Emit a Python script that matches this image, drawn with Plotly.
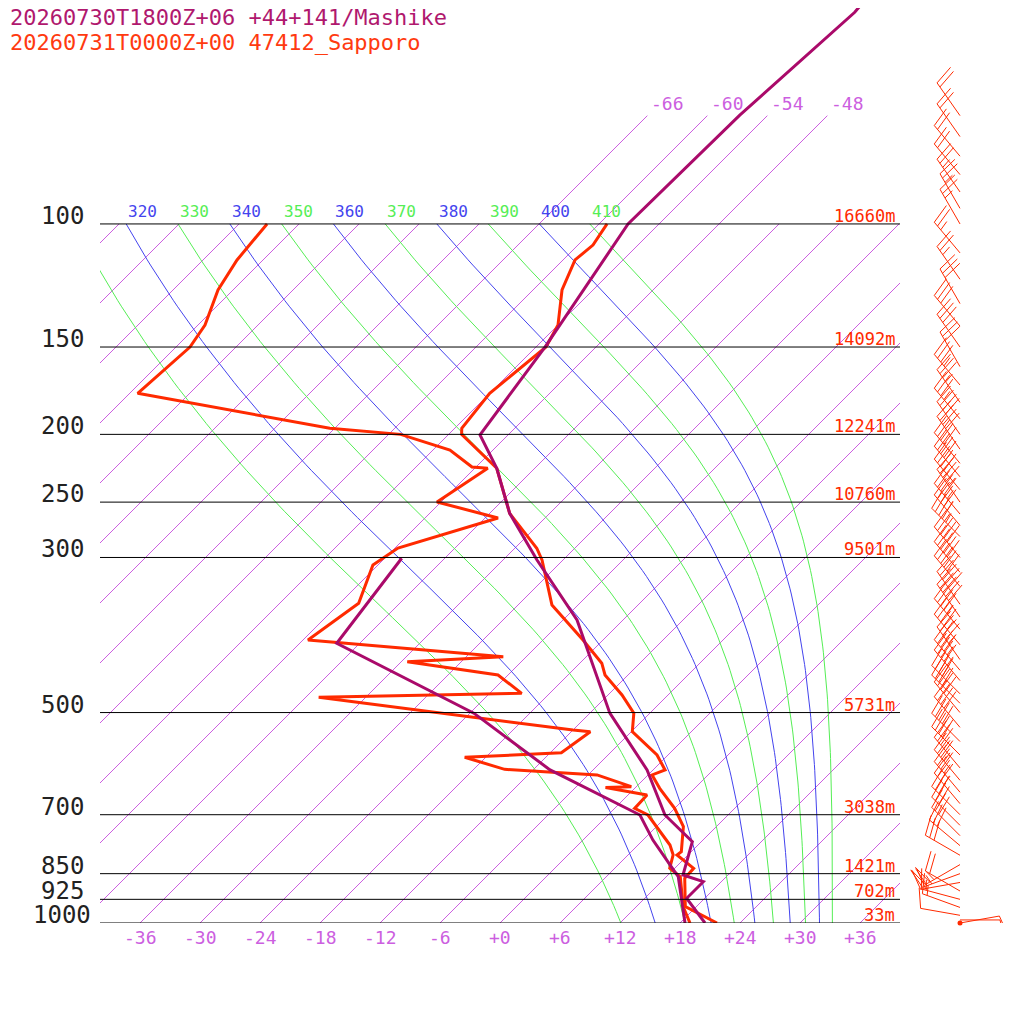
import numpy as np
import plotly.graph_objects as go

K = 30.36  # skew factor, degC per ln(p) unit
OFF = 8.0       # page body margin of the browser
W = 1016.0
PTOP = 1000 * np.exp(-(923 - OFF) / 303.6)

# ---- data ----
mash_T_p = [47.8, 49.8, 69.9, 100, 150, 200.4, 223.6, 259.4, 302.5, 368.6, 501, 604, 700.7, 765, 853.8, 872.8, 921.9, 1000]
mash_T = [-55.8, -55.6, -56.8, -57.1, -53.1, -50.8, -45.8, -40.0, -32.6, -22.6, -10.0, -0.6, 5.7, 11.1, 13.5, 16.2, 16.2, 20.5]
mash_Td_p = [300.8, 398, 501, 604, 700.7, 761, 826, 858.6, 1000]
mash_Td = [-46.3, -44.3, -23.6, -10.3, 3.2, 7.0, 11.2, 13.2, 18.5]

sap_T_p = [100, 107.2, 112.6, 124.3, 139.5, 150, 174.7, 196, 200, 223.6, 259.4, 291, 302.5, 350.9, 393.7, 425, 441.8, 471.9,
           501, 532.5, 575, 604, 614, 641.7, 685.5, 728, 790.6, 799.3, 835.2, 863, 947.7, 1000]
sap_T = [-59.2, -58.5, -58.8, -57.1, -54.0, -53.0, -54.0, -53.3, -52.7, -45.8, -40.0, -33.8, -32.1, -26.6, -20.0, -15.8, -14.3, -10.6,
         -7.6, -5.9, -1.1, 1.2, 0.4, 2.5, 6.0, 8.7, 11.0, 10.9, 13.9, 14.0, 16.9, 21.7]
sap_Td_p = [100, 107.2, 112.6, 124.3, 139.5, 150, 174.7, 196, 200, 210.6, 222.7, 223.6, 249.9, 263.4, 290.8, 307.6, 348.9, 393.7,
            416, 422.9, 441.8, 469.3, 475.5, 529.6, 532.5, 570.6, 579.4, 602.8, 614, 638.3, 640, 656, 685.5, 700.7, 773.5, 799,
            835, 858.6, 948, 1000]
sap_Td = [-93.2, -92.8, -92.6, -91.5, -89.3, -88.6, -89.2, -66.5, -58.8, -52.3, -48.4, -46.7, -48.4, -40.7, -47.7, -48.5, -46.1, -47.5,
          -26.3, -35.4, -25.0, -20.8, -40.7, -12.0, -10.1, -10.9, -20.1, -14.9, -5.1, -0.5, -3.0, 1.9, 2.0, 4.0, 9.2, 10.5,
          11.5, 13.4, 16.7, 19.0]

isobars = [100, 150, 200, 250, 300, 500, 700, 850, 925, 1000]
heights = ["16660m", "14092m", "12241m", "10760m", "9501m", "5731m", "3038m", "1421m", "702m", "33m"]
temp_ticks = [-36, -30, -24, -18, -12, -6, 0, 6, 12, 18, 24, 30, 36]
theta_vals = [310, 320, 330, 340, 350, 360, 370, 380, 390, 400, 410]
iso_labels = [-66, -60, -54, -48]

wind_p = [1000, 990, 975, 950, 925, 900, 875, 850, 825, 800, 775, 750, 725, 700, 675, 650, 625, 600, 575, 550, 525, 500, 485,
          470, 450, 435, 420, 400, 380, 365, 350, 330, 315, 300, 280, 270, 260, 250, 240, 230, 220, 210, 200, 190, 180, 170,
          160, 150, 140, 130, 120, 110, 100, 95, 90, 85, 80, 75, 70]
wind_dir = [80, 90, 280, 290, 285, 300, 260, 250, 240, 300, 310, 315, 315, 315, 320, 320, 320, 320, 315, 315, 320, 320, 315,
            315, 320, 320, 325, 320, 320, 325, 325, 320, 320, 320, 315, 320, 320, 325, 320, 320, 320, 325, 325, 320, 325, 320,
            330, 325, 320, 330, 325, 320, 330, 330, 325, 320, 320, 325, 325]
wind_spd = [5, 10, 10, 15, 15, 20, 20, 25, 25, 30, 30, 30, 30, 30, 35, 35, 35, 35, 40, 40, 40, 40, 40, 40, 45, 45, 45, 45, 45,
            50, 50, 50, 50, 50, 45, 45, 45, 45, 40, 40, 40, 40, 40, 35, 35, 35, 30, 30, 30, 30, 25, 25, 25, 25, 25, 20, 20,
            20, 20]

PURPLE = "#aa0a6a"
RED = "#ff2a00"
ISO = "#cc5ee0"
GREEN = "#55ee55"
BLUE = "#4444ee"
FONT = "DejaVu Sans Mono"

def px(X):
    return (X - OFF) / W

def py(Y):
    return 1 - (Y - OFF) / W

def skew(T, p):
    return np.asarray(T, float) + K * np.log(1000.0 / np.asarray(p, float))

fig = go.Figure()

# isotherms
for T in range(-126, 40, 6):
    ptop = 70 if -66 <= T <= -48 else 100
    pp = np.array([1000.0, ptop])
    fig.add_trace(go.Scatter(x=skew([T, T], pp), y=pp, mode="lines", line=dict(color=ISO, width=1),
                             hoverinfo="skip", showlegend=False))

# pseudo-adiabats (Bolton theta-e)
def theta_e(Tk, p):
    Tc = Tk - 273.15
    es = 6.112 * np.exp(17.67 * Tc / (Tc + 243.5))
    r = 622.0 * es / (p - es)
    return Tk * (1000.0 / p) ** (0.2854 * (1 - 0.28e-3 * r)) * np.exp((3.376 / Tk - 0.00254) * r * (1 + 0.81e-3 * r))

pgrid = np.geomspace(100, 1000, 120)
for i, th in enumerate(theta_vals):
    lo = np.full_like(pgrid, 150.0)
    hi = np.full_like(pgrid, 320.0)
    for _ in range(60):
        mid = 0.5 * (lo + hi)
        f = theta_e(mid, pgrid) - th
        lo = np.where(f < 0, mid, lo)
        hi = np.where(f >= 0, mid, hi)
    Tc = 0.5 * (lo + hi) - 273.15
    col = GREEN if i % 2 == 0 else BLUE
    fig.add_trace(go.Scatter(x=skew(Tc, pgrid), y=pgrid, mode="lines", line=dict(color=col, width=1),
                             hoverinfo="skip", showlegend=False))
    fig.add_annotation(x=float(skew(Tc[0], 100)), y=2, xref="x", yref="y", text=str(th), showarrow=False,
                       xanchor="left", yanchor="bottom", yshift=1, font=dict(family=FONT, size=16, color=col))

# isobars
for p in isobars:
    fig.add_trace(go.Scatter(x=[-40, 40], y=[p, p], mode="lines", line=dict(color="black", width=1),
                             hoverinfo="skip", showlegend=False, xaxis="x2"))

# profiles
fig.add_trace(go.Scatter(x=skew(sap_Td, sap_Td_p), y=sap_Td_p, mode="lines", line=dict(color=RED, width=3), showlegend=False))
fig.add_trace(go.Scatter(x=skew(mash_Td, mash_Td_p), y=mash_Td_p, mode="lines", line=dict(color=PURPLE, width=3), showlegend=False))
fig.add_trace(go.Scatter(x=skew(sap_T, sap_T_p), y=sap_T_p, mode="lines", line=dict(color=RED, width=3), showlegend=False))
fig.add_trace(go.Scatter(x=skew(mash_T, mash_T_p), y=mash_T_p, mode="lines", line=dict(color=PURPLE, width=3), showlegend=False))

# wind barbs (pixel x axis x3, pressure y axis)
PXL = 303.6
bx, by = [], []
for p, d, s in zip(wind_p, wind_dir, wind_spd):
    r = np.radians(d)
    ux, uy = np.sin(r), -np.cos(r)
    L = 40.0
    tipx, tipy = 960 + ux * L, uy * L
    def add(x0, y0, x1, y1):
        bx.extend([x0, x1, None])
        by.extend([p * np.exp(y0 / PXL), p * np.exp(y1 / PXL), None])
    add(960, 0, tipx, tipy)
    qx, qy = -uy, ux
    n10, n5 = s // 10, (s % 10) // 5
    pos = 0.0
    for k in range(n10):
        sx, sy = tipx - ux * pos, tipy - uy * pos
        add(sx, sy, sx + qx * 20 + ux * 5, sy + qy * 20 + uy * 5)
        pos += 5
    if n5:
        sx, sy = tipx - ux * pos, tipy - uy * pos
        add(sx, sy, sx + qx * 10 + ux * 2.5, sy + qy * 10 + uy * 2.5)
fig.add_trace(go.Scatter(x=bx, y=by, mode="lines", line=dict(color=RED, width=1), xaxis="x3",
                         hoverinfo="skip", showlegend=False, cliponaxis=False))
fig.add_trace(go.Scatter(x=[960], y=[1000], mode="markers", marker=dict(color=RED, size=5), xaxis="x3",
                         showlegend=False, cliponaxis=False))

# labels
for p in isobars:
    fig.add_annotation(x=px(62), y=np.log10(p), xref="paper", yref="y", text=str(p), showarrow=False,
                       xanchor="center", yanchor="middle", yshift=8, font=dict(family=FONT, size=24, color="#222222"))
for p, h in zip(isobars, heights):
    fig.add_annotation(x=px(897), y=np.log10(p), xref="paper", yref="y", text=h, showarrow=False,
                       xanchor="right", yanchor="middle", yshift=8, font=dict(family=FONT, size=17, color=RED))
for t in temp_ticks:
    txt = ("+" if t >= 0 else "") + str(t)
    fig.add_annotation(x=t, y=py(937), xref="x", yref="paper", text=txt, showarrow=False,
                       xanchor="center", yanchor="middle", font=dict(family=FONT, size=18, color=ISO))
for t in iso_labels:
    fig.add_annotation(x=float(skew(t, 70)), y=np.log10(70), xref="x", yref="y", text=str(t), showarrow=False,
                       xanchor="left", yanchor="bottom", xshift=2, font=dict(family=FONT, size=18, color=ISO))
fig.add_annotation(x=px(8), y=py(18), xref="paper", yref="paper", text="20260730T1800Z+06 +44+141/Mashike",
                   showarrow=False, xanchor="left", yanchor="middle", font=dict(family=FONT, size=22, color="#b0186e"))
fig.add_annotation(x=px(8), y=py(42), xref="paper", yref="paper", text="20260731T0000Z+00 47412_Sapporo",
                   showarrow=False, xanchor="left", yanchor="middle", font=dict(family=FONT, size=22, color="#ff3a10"))

ax = dict(showgrid=False, zeroline=False, showticklabels=False, ticks="", showline=False)
fig.update_layout(
    width=W, height=W, margin=dict(l=0, r=0, t=0, b=0),
    paper_bgcolor="white", plot_bgcolor="white",
    xaxis=dict(domain=[px(100), px(900)], range=[-40, 40], **ax),
    xaxis2=dict(domain=[px(100), px(900)], range=[-40, 40], overlaying="x", **ax),
    xaxis3=dict(domain=[px(900), 1.0], range=[900, 1016 + OFF], anchor="y", **ax),
    yaxis=dict(domain=[py(923), 1.0], type="log", range=[3, np.log10(PTOP)], **ax),
)
fig.write_html("out.html")
